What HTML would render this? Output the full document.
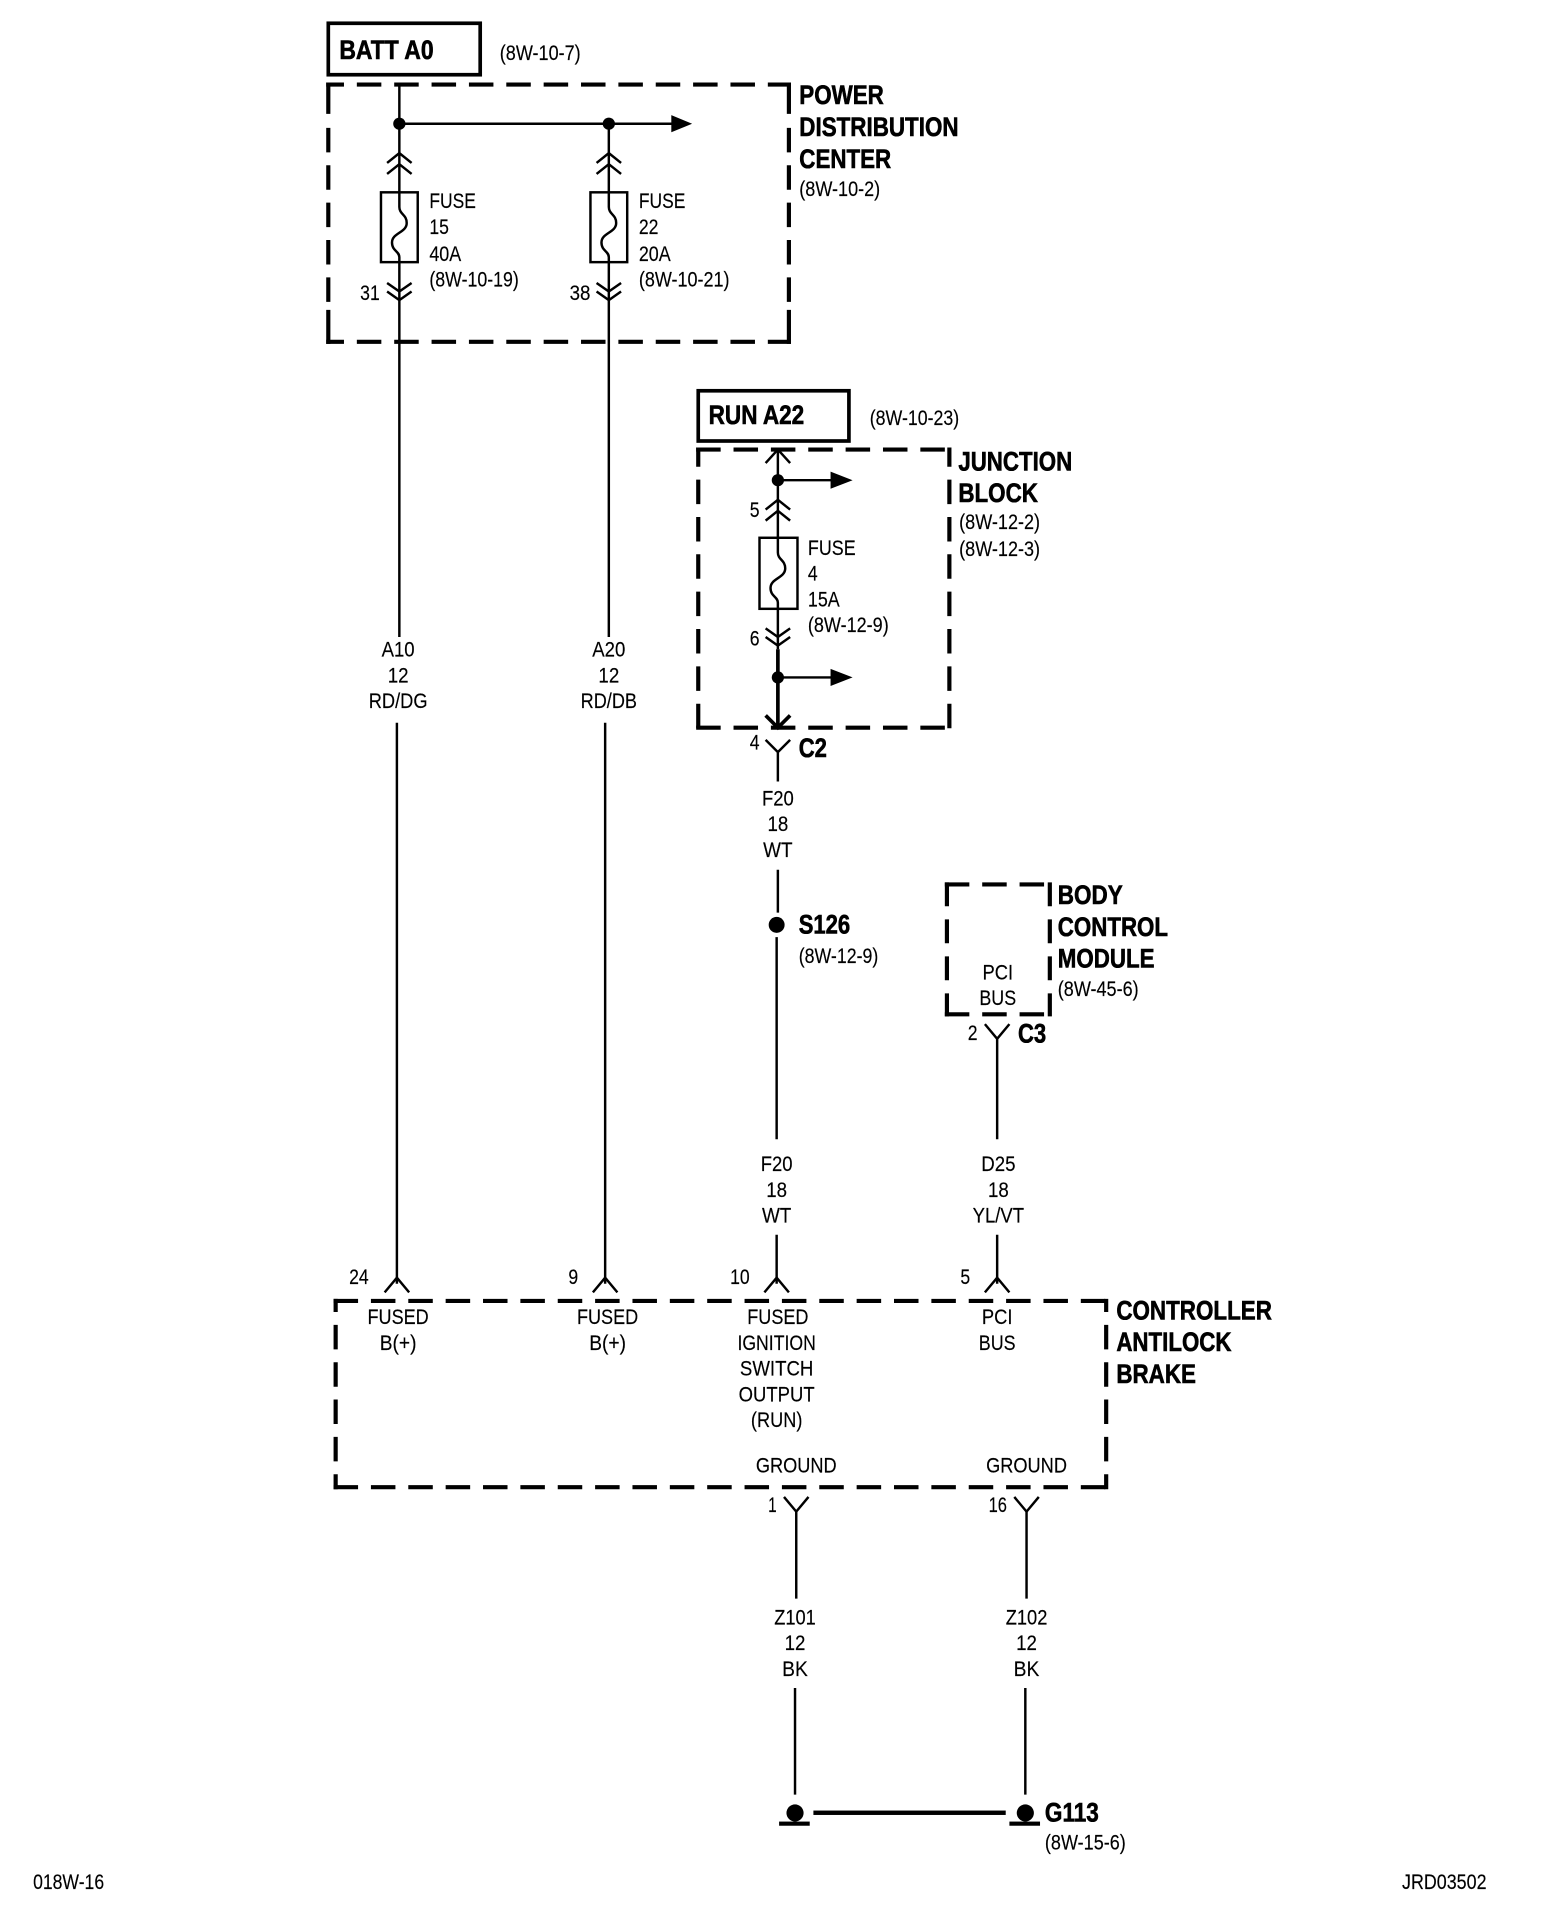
<!DOCTYPE html>
<html><head><meta charset="utf-8"><style>
html,body{margin:0;padding:0;background:#fff}
svg{display:block}
text{font-family:"Liberation Sans",sans-serif;fill:#000;font-size:17px;stroke:#000;stroke-width:.12}
.b{font-weight:bold;font-size:22px;stroke:#000;stroke-width:.5}
.m{text-anchor:middle}
.w{fill:none;stroke:#000;stroke-width:2}
.t{fill:none;stroke:#000;stroke-width:3}
.d{fill:none;stroke:#000;stroke-width:3.4;stroke-dasharray:20 10.5}
.s{fill:none;stroke:#000;stroke-width:3.4}
.f{fill:#000;stroke:none}
</style></head><body>
<svg width="1568" height="1920" viewBox="0 0 1280 1567.35" preserveAspectRatio="none" xmlns="http://www.w3.org/2000/svg">
<rect width="1280" height="1568" fill="#fff"/>

<!-- BATT -->
<rect class="t" x="268" y="19" width="124" height="42"/>
<text class="b" x="277" y="48" textLength="77" lengthAdjust="spacingAndGlyphs">BATT A0</text>
<text x="408" y="49" textLength="66" lengthAdjust="spacingAndGlyphs">(8W-10-7)</text>

<!-- PDC -->
<path class="d" style="stroke-dashoffset:5.5" d="M266.3 69H645.7M266.3 279H645.7"/>
<path class="s" d="M268 67.3V93M268 253V280.7M644 67.3V93M644 253V280.7"/>
<path class="d" d="M268 104.4V247M644 104.4V247"/>
<text class="b" x="652.5" y="85" textLength="69" lengthAdjust="spacingAndGlyphs">POWER</text>
<text class="b" x="652.5" y="111" textLength="130" lengthAdjust="spacingAndGlyphs">DISTRIBUTION</text>
<text class="b" x="652.5" y="137" textLength="75" lengthAdjust="spacingAndGlyphs">CENTER</text>
<text x="652.5" y="160" textLength="66" lengthAdjust="spacingAndGlyphs">(8W-10-2)</text>

<!-- feed -->
<path class="w" d="M326 69V157M326 214V520M324 590V1048"/>
<path class="w" d="M497 101V157M497 214V520M494 590V1048"/>
<path class="w" d="M326 101H550"/>
<circle class="f" cx="326" cy="101" r="5"/>
<circle class="f" cx="497" cy="101" r="5"/>
<polygon class="f" points="548,94 565,101 548,108"/>
<!-- chevrons up -->
<path class="w" d="M316 133L326 125L336 133M316 142L326 134L336 142"/>
<path class="w" d="M487 133L497 125L507 133M487 142L497 134L507 142"/>
<!-- fuses -->
<rect class="w" x="311" y="157" width="30" height="57"/>
<path class="w" d="M326 157V169C326 175 332 175 332 182C332 190 320 190 320 198C320 205 326 205 326 210V214"/>
<rect class="w" x="482" y="157" width="30" height="57"/>
<path class="w" d="M497 157V169C497 175 503 175 503 182C503 190 491 190 491 198C491 205 497 205 497 210V214"/>
<!-- chevrons down -->
<path class="w" d="M316 231L326 238L336 231M316 238L326 245L336 238"/>
<path class="w" d="M487 231L497 238L507 231M487 238L497 245L507 238"/>
<text x="350.5" y="170" textLength="38" lengthAdjust="spacingAndGlyphs">FUSE</text>
<text x="350.5" y="191" textLength="16" lengthAdjust="spacingAndGlyphs">15</text>
<text x="350.5" y="213" textLength="26" lengthAdjust="spacingAndGlyphs">40A</text>
<text x="350.5" y="234" textLength="73" lengthAdjust="spacingAndGlyphs">(8W-10-19)</text>
<text x="521.5" y="170" textLength="38" lengthAdjust="spacingAndGlyphs">FUSE</text>
<text x="521.5" y="191" textLength="16" lengthAdjust="spacingAndGlyphs">22</text>
<text x="521.5" y="213" textLength="26" lengthAdjust="spacingAndGlyphs">20A</text>
<text x="521.5" y="234" textLength="74" lengthAdjust="spacingAndGlyphs">(8W-10-21)</text>
<text x="294" y="245" textLength="16" lengthAdjust="spacingAndGlyphs">31</text>
<text x="465" y="245" textLength="17" lengthAdjust="spacingAndGlyphs">38</text>

<text class="m" x="325" y="536" textLength="27" lengthAdjust="spacingAndGlyphs">A10</text>
<text class="m" x="325" y="557" textLength="17" lengthAdjust="spacingAndGlyphs">12</text>
<text class="m" x="325" y="578" textLength="48" lengthAdjust="spacingAndGlyphs">RD/DG</text>
<text class="m" x="497" y="536" textLength="27" lengthAdjust="spacingAndGlyphs">A20</text>
<text class="m" x="497" y="557" textLength="17" lengthAdjust="spacingAndGlyphs">12</text>
<text class="m" x="497" y="578" textLength="46" lengthAdjust="spacingAndGlyphs">RD/DB</text>

<!-- RUN -->
<rect class="t" x="570" y="319" width="123" height="41"/>
<text class="b" x="578.5" y="346" textLength="78" lengthAdjust="spacingAndGlyphs">RUN A22</text>
<text x="710" y="347" textLength="73" lengthAdjust="spacingAndGlyphs">(8W-10-23)</text>

<!-- Junction block -->
<path class="d" d="M568.3 367H776.7M568.3 594H776.7"/>
<path class="d" style="stroke-dashoffset:4.3" d="M570 365.3V595.7M775 365.3V595.7"/>
<text class="b" x="782.3" y="384" textLength="93" lengthAdjust="spacingAndGlyphs">JUNCTION</text>
<text class="b" x="782.3" y="410" textLength="65" lengthAdjust="spacingAndGlyphs">BLOCK</text>
<text x="783" y="432" textLength="66" lengthAdjust="spacingAndGlyphs">(8W-12-2)</text>
<text x="783" y="454" textLength="66" lengthAdjust="spacingAndGlyphs">(8W-12-3)</text>
<path class="w" d="M635 367V439M635 497V530"/>
<path class="t" d="M635 530V594"/>
<path class="w" d="M625 378L635 367L645 378"/>
<circle class="f" cx="635" cy="392" r="5"/>
<path class="w" d="M635 392H680"/>
<polygon class="f" points="678,385 696,392 678,399"/>
<path class="w" d="M625 416L635 408L645 416M625 425L635 417L645 425"/>
<rect class="w" x="620" y="439" width="31" height="58"/>
<path class="w" d="M635 439V451C635 457 641 457 641 464C641 472 629 472 629 480C629 487 635 487 635 492V497"/>
<text x="659.5" y="453" textLength="39" lengthAdjust="spacingAndGlyphs">FUSE</text>
<text x="659.5" y="474" textLength="8" lengthAdjust="spacingAndGlyphs">4</text>
<text x="659.5" y="495" textLength="26" lengthAdjust="spacingAndGlyphs">15A</text>
<text x="659.5" y="516" textLength="66" lengthAdjust="spacingAndGlyphs">(8W-12-9)</text>
<text x="612" y="422" textLength="8" lengthAdjust="spacingAndGlyphs">5</text>
<text x="612" y="527" textLength="8" lengthAdjust="spacingAndGlyphs">6</text>
<path class="w" d="M625 513L635 520L645 513M625 520L635 527L645 520"/>
<circle class="f" cx="635" cy="553" r="5"/>
<path class="w" d="M635 553H680"/>
<polygon class="f" points="678,546 696,553 678,560"/>
<path class="t" d="M625 584L635 594L645 584"/>
<path class="w" d="M625 604L635 614L645 604M635 614V638"/>
<text x="612" y="612" textLength="8" lengthAdjust="spacingAndGlyphs">4</text>
<text class="b" x="652" y="618" textLength="23" lengthAdjust="spacingAndGlyphs">C2</text>

<text class="m" x="635" y="657.5" textLength="26" lengthAdjust="spacingAndGlyphs">F20</text>
<text class="m" x="635" y="678.5" textLength="17" lengthAdjust="spacingAndGlyphs">18</text>
<text class="m" x="635" y="699.5" textLength="24" lengthAdjust="spacingAndGlyphs">WT</text>
<path class="w" d="M635 710V745M634 765V930M634 1008V1048"/>
<circle class="f" cx="634" cy="755" r="6.5"/>
<text class="b" x="652" y="762" textLength="42" lengthAdjust="spacingAndGlyphs">S126</text>
<text x="652" y="786" textLength="65" lengthAdjust="spacingAndGlyphs">(8W-12-9)</text>
<text class="m" x="634" y="956" textLength="26" lengthAdjust="spacingAndGlyphs">F20</text>
<text class="m" x="634" y="977" textLength="17" lengthAdjust="spacingAndGlyphs">18</text>
<text class="m" x="634" y="998" textLength="24" lengthAdjust="spacingAndGlyphs">WT</text>

<!-- BCM -->
<path class="d" d="M771.3 722H858.7M771.3 828H858.7"/>
<path class="d" style="stroke-dashoffset:0;stroke-dasharray:19.5 10.7" d="M773 720.3V829.7M857 720.3V829.7"/>
<text class="b" x="863.5" y="738" textLength="53" lengthAdjust="spacingAndGlyphs">BODY</text>
<text class="b" x="863.5" y="764" textLength="90" lengthAdjust="spacingAndGlyphs">CONTROL</text>
<text class="b" x="863.5" y="790" textLength="79" lengthAdjust="spacingAndGlyphs">MODULE</text>
<text x="863.5" y="813" textLength="66" lengthAdjust="spacingAndGlyphs">(8W-45-6)</text>
<text class="m" x="814.5" y="799.5" textLength="25" lengthAdjust="spacingAndGlyphs">PCI</text>
<text class="m" x="814.5" y="820.5" textLength="30" lengthAdjust="spacingAndGlyphs">BUS</text>
<text x="790" y="849" textLength="8" lengthAdjust="spacingAndGlyphs">2</text>
<text class="b" x="831" y="851" textLength="23" lengthAdjust="spacingAndGlyphs">C3</text>
<path class="w" d="M804 836L814 848L824 836M814 848V930M814 1008V1048"/>
<text class="m" x="815" y="956" textLength="28" lengthAdjust="spacingAndGlyphs">D25</text>
<text class="m" x="815" y="977" textLength="17" lengthAdjust="spacingAndGlyphs">18</text>
<text class="m" x="815" y="998" textLength="42" lengthAdjust="spacingAndGlyphs">YL/VT</text>

<!-- Carets -->
<path class="w" d="M314 1055L324 1043L334 1055"/>
<path class="w" d="M484 1055L494 1043L504 1055"/>
<path class="w" d="M624 1055L634 1043L644 1055"/>
<path class="w" d="M804 1055L814 1043L824 1055"/>
<text x="285" y="1048" textLength="16" lengthAdjust="spacingAndGlyphs">24</text>
<text x="464" y="1048" textLength="8" lengthAdjust="spacingAndGlyphs">9</text>
<text x="596" y="1048" textLength="16" lengthAdjust="spacingAndGlyphs">10</text>
<text x="784" y="1048" textLength="8" lengthAdjust="spacingAndGlyphs">5</text>

<!-- Controller -->
<path class="d" d="M272.3 1062H904.7M272.3 1214H904.7"/>
<path class="d" style="stroke-dashoffset:9.3" d="M274 1060.3V1215.7M903 1060.3V1215.7"/>
<text class="b" x="911.3" y="1077" textLength="127" lengthAdjust="spacingAndGlyphs">CONTROLLER</text>
<text class="b" x="911.3" y="1103" textLength="94" lengthAdjust="spacingAndGlyphs">ANTILOCK</text>
<text class="b" x="911.3" y="1129" textLength="65" lengthAdjust="spacingAndGlyphs">BRAKE</text>
<text class="m" x="325" y="1081" textLength="50" lengthAdjust="spacingAndGlyphs">FUSED</text>
<text class="m" x="325" y="1102" textLength="30" lengthAdjust="spacingAndGlyphs">B(+)</text>
<text class="m" x="496" y="1081" textLength="50" lengthAdjust="spacingAndGlyphs">FUSED</text>
<text class="m" x="496" y="1102" textLength="30" lengthAdjust="spacingAndGlyphs">B(+)</text>
<text class="m" x="635" y="1081" textLength="50" lengthAdjust="spacingAndGlyphs">FUSED</text>
<text class="m" x="634" y="1102" textLength="64" lengthAdjust="spacingAndGlyphs">IGNITION</text>
<text class="m" x="634" y="1123" textLength="60" lengthAdjust="spacingAndGlyphs">SWITCH</text>
<text class="m" x="634" y="1144" textLength="62" lengthAdjust="spacingAndGlyphs">OUTPUT</text>
<text class="m" x="634" y="1165" textLength="42" lengthAdjust="spacingAndGlyphs">(RUN)</text>
<text class="m" x="814" y="1081" textLength="25" lengthAdjust="spacingAndGlyphs">PCI</text>
<text class="m" x="814" y="1102" textLength="30" lengthAdjust="spacingAndGlyphs">BUS</text>
<text class="m" x="650" y="1202" textLength="66" lengthAdjust="spacingAndGlyphs">GROUND</text>
<text class="m" x="838" y="1202" textLength="66" lengthAdjust="spacingAndGlyphs">GROUND</text>

<!-- Grounds -->
<path class="w" d="M640 1222L650 1234L660 1222"/>
<path class="w" d="M828 1222L838 1234L848 1222"/>
<path class="w" d="M650 1234V1305M649 1378V1465M838 1234V1305M837 1378V1465"/>
<text x="627" y="1234.5" textLength="7" lengthAdjust="spacingAndGlyphs">1</text>
<text x="807" y="1234.5" textLength="15" lengthAdjust="spacingAndGlyphs">16</text>
<text class="m" x="649" y="1326" textLength="34" lengthAdjust="spacingAndGlyphs">Z101</text>
<text class="m" x="649" y="1347" textLength="17" lengthAdjust="spacingAndGlyphs">12</text>
<text class="m" x="649" y="1368" textLength="21" lengthAdjust="spacingAndGlyphs">BK</text>
<text class="m" x="838" y="1326" textLength="34" lengthAdjust="spacingAndGlyphs">Z102</text>
<text class="m" x="838" y="1347" textLength="17" lengthAdjust="spacingAndGlyphs">12</text>
<text class="m" x="838" y="1368" textLength="21" lengthAdjust="spacingAndGlyphs">BK</text>
<circle class="f" cx="649" cy="1480" r="7"/>
<circle class="f" cx="837" cy="1480" r="7"/>
<rect class="f" x="636" y="1487" width="25" height="3.4"/>
<rect class="f" x="824" y="1487" width="25" height="3.4"/>
<rect class="f" x="664" y="1478" width="157" height="3.6"/>
<text class="b" x="853" y="1487" textLength="44" lengthAdjust="spacingAndGlyphs">G113</text>
<text x="853" y="1510" textLength="66" lengthAdjust="spacingAndGlyphs">(8W-15-6)</text>

<text x="27" y="1542" textLength="58" lengthAdjust="spacingAndGlyphs">018W-16</text>
<text x="1144.5" y="1542" textLength="69" lengthAdjust="spacingAndGlyphs">JRD03502</text>
</svg>
</body></html>
